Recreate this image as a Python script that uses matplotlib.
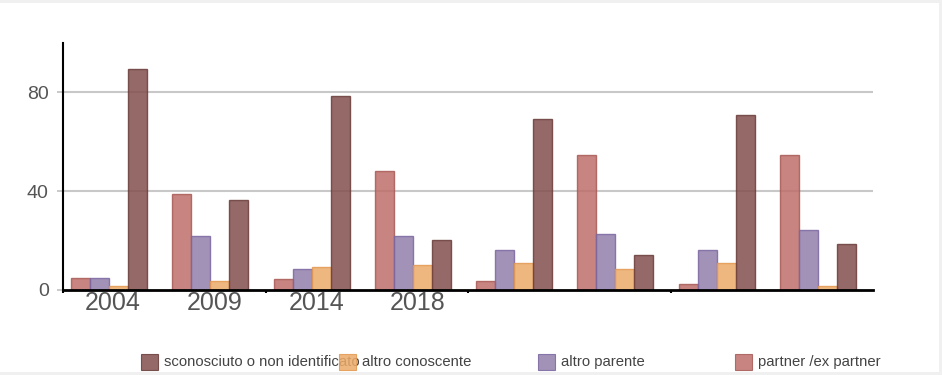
import matplotlib
matplotlib.use("Agg")
import matplotlib.pyplot as plt
from matplotlib.patches import Rectangle

plt.rcParams['font.family'] = ['Liberation Sans', 'DejaVu Sans']

# ---- data ----
year_labels = ["2004", "2009", "2014", "2018"]
series_names = ["partner /ex partner", "altro parente", "altro conoscente",
                "sconosciuto o non identificato"]
partner = [5, 38.8, 4.3, 48, 3.5, 54.8, 2.6, 54.8]
altro_parente = [5, 22, 8.5, 22, 16, 22.8, 16, 24.4]
altro_conoscente = [1.8, 3.5, 9.3, 10.2, 11.1, 8.5, 11.1, 1.75]
sconosciuto = [89.3, 36.3, 78.4, 20.2, 69.2, 14.3, 70.8, 18.5]
y_ticks = [0, 40, 80]

series = [partner, altro_parente, altro_conoscente, sconosciuto]
fills = ["#be6e6a", "#927fab", "#edab6a", "#834f4e"]
edges = ["#a85a56", "#7a66a0", "#e29850", "#6a3c3b"]

W, H = 942, 375
fig = plt.figure(figsize=(W / 100, H / 100), dpi=100, facecolor="#f0f0f0")
fig.patches.append(Rectangle((0, 3 / H), 939 / W, 369 / H, transform=fig.transFigure,
                             facecolor="white", edgecolor="none", zorder=-5))

ax = fig.add_axes([63 / W, (H - 290) / H, 810 / W, (290 - 43) / H])
ax.set_facecolor("none")
ax.set_zorder(1)

n = len(partner)
bw = 0.1875
for j, vals in enumerate(series):
    xs = [i + 0.08 + j * bw for i in range(n)]
    ax.bar(xs, vals, width=bw, align="edge", color=fills[j], alpha=0.85,
           edgecolor=edges[j], linewidth=1.0, zorder=3)

ax.set_xlim(0, n)
ax.set_ylim(0, 100)

for v in y_ticks[1:]:
    ax.axhline(v, color="#c8c8c8", linewidth=1.5, zorder=1)

ax.set_yticks(y_ticks)
ax.set_yticklabels([str(v) for v in y_ticks])
ax.tick_params(axis="y", length=4.3, width=1.2, color="#c0c0c0", pad=6,
               labelsize=14, labelcolor="#555555")

ax.set_xticks([0.49, 1.5, 2.5, 3.5])
ax.set_xticklabels(year_labels)
ax.set_xticks([0, 2, 4, 6], minor=True)
ax.tick_params(axis="x", which="major", length=0, pad=0.5, labelsize=18,
               labelcolor="#555555")
ax.tick_params(axis="x", which="minor", length=2.5, width=1.5, color="black")

for s in ["top", "right"]:
    ax.spines[s].set_visible(False)
ax.spines["left"].set_linewidth(1.5)
ax.spines["bottom"].set_linewidth(2)
ax.spines["left"].set_zorder(4)
ax.spines["bottom"].set_zorder(4)

# ---- legend ----
legend_order = [3, 2, 1, 0]
sq_x = [141, 339, 538, 735]
for k, idx in enumerate(legend_order):
    x0 = sq_x[k]
    fig.patches.append(Rectangle((x0 / W, (H - 370) / H), 17 / W, 16 / H,
                                 transform=fig.transFigure, facecolor=fills[idx],
                                 alpha=0.85, edgecolor=edges[idx], linewidth=0.8,
                                 zorder=6))
    fig.text((x0 + 23) / W, (H - 362) / H, series_names[idx], fontsize=10.7,
             color="#444444", va="center", ha="left", zorder=5)

fig.savefig("out.png", dpi=100, facecolor=fig.get_facecolor())
